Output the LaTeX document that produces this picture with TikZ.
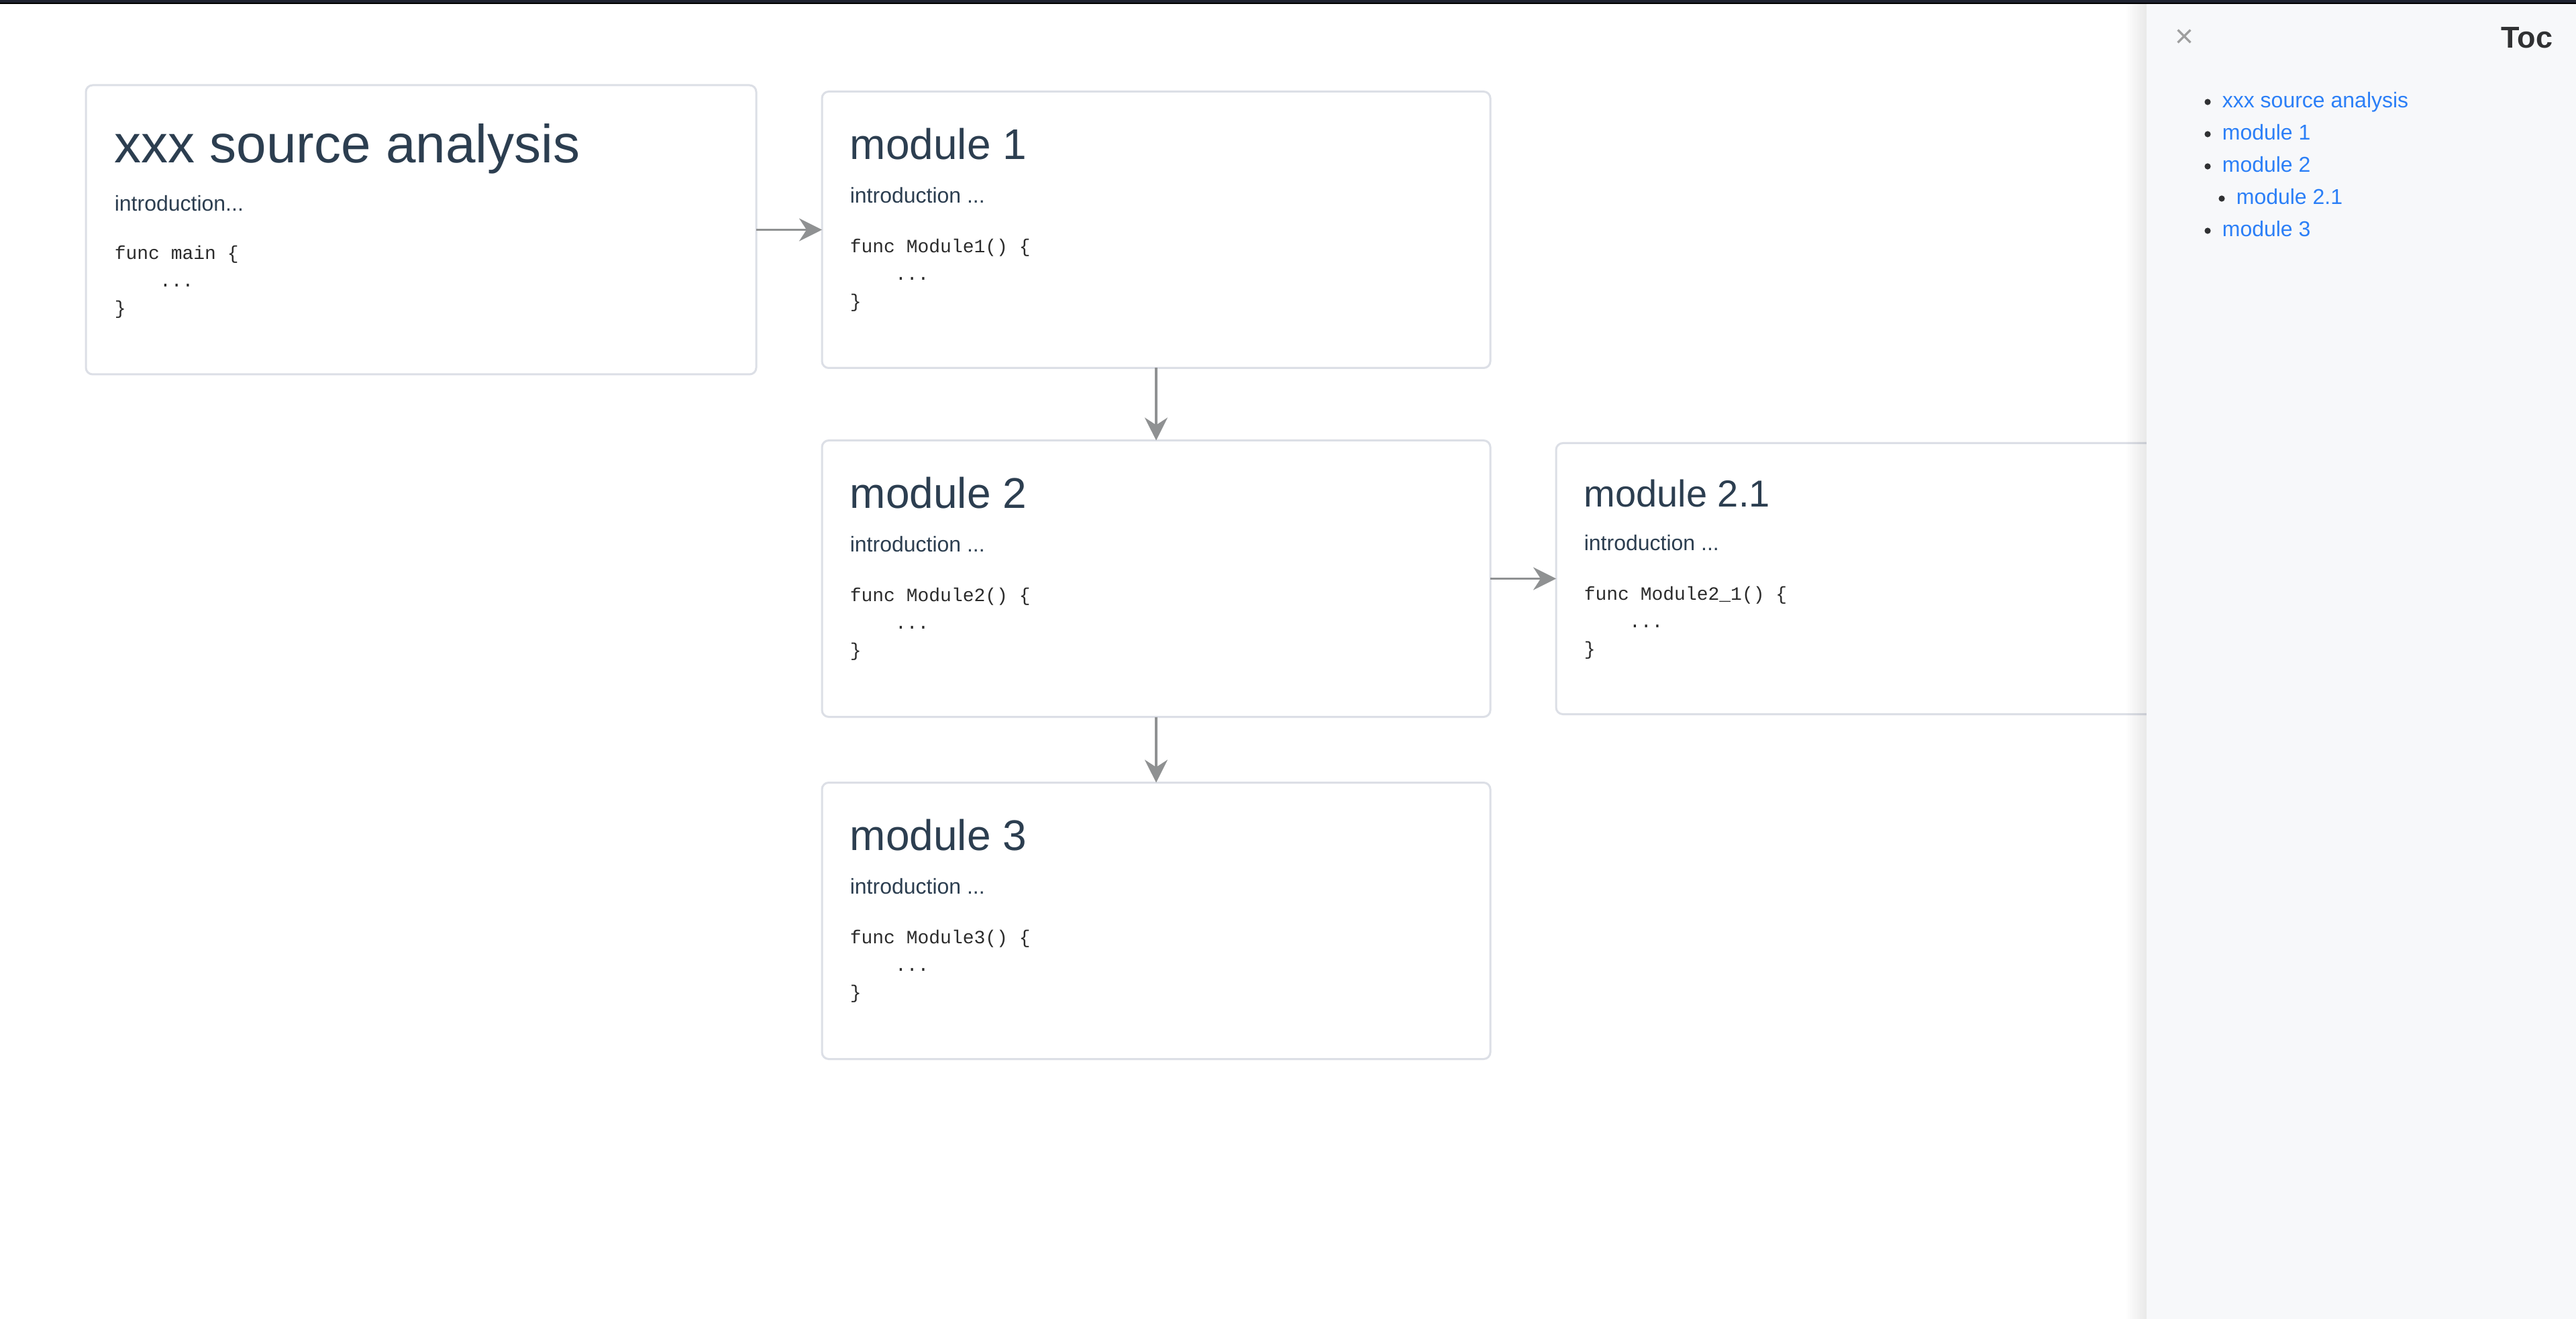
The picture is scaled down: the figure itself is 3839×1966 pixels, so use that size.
\documentclass[tikz,border=0pt]{standalone}
\usepackage{fontspec}
\setmainfont{Liberation Sans}
\setmonofont{Liberation Mono}
\usepackage{tikz}
\usetikzlibrary{positioning,arrows.meta,fadings}
\usepackage{xcolor}
\definecolor{slate}{HTML}{2C3E50}
\definecolor{codeink}{HTML}{2B2B2B}
\definecolor{cardline}{HTML}{DCDFE6}
\definecolor{arrowgray}{HTML}{8F9192}
\definecolor{tocbg}{HTML}{F7F8FA}
\definecolor{tocblue}{HTML}{2B7FF7}
\definecolor{tocink}{HTML}{303133}
\definecolor{topbar}{HTML}{1F2330}
\newcommand{\cstrut}{\rule{0pt}{7pt}}

\begin{document}
\begin{tikzpicture}[x=0.25pt, y=-0.25pt,
    card/.style={draw=cardline, line width=0.75pt, rounded corners=2.5pt, fill=white, minimum width=249pt, minimum height=103pt, outer sep=0pt, inner sep=0pt},
    ttl/.style={font=\fontsize{16}{19}\selectfont, text=slate, inner sep=0pt, anchor=base west},
    intro/.style={font=\fontsize{8}{10}\selectfont, text=slate, inner sep=0pt, anchor=base west},
    code/.style={font=\ttfamily\fontsize{7}{10.25}\selectfont, text=codeink, inner sep=0pt, align=left, anchor=north west},
    link/.style={draw=arrowgray, line width=0.9pt, -{Stealth[length=8.5pt, width=8.5pt, inset=2.75pt]}},
    tocitem/.style={font=\fontsize{8}{10}\selectfont, text=tocblue, inner sep=0pt, anchor=base west}]
  \useasboundingbox (0,0) rectangle (3839,1966);
  \fill[white] (0,0) rectangle (3839,1966);

  % cards
  \node[card, minimum width=249.75pt, minimum height=107.75pt, anchor=north west] (src) at (128,127) {};
  \node[card, right=24.5pt of src] (m1) {};
  \node[card, below=27pt of m1] (m2) {};
  \node[card, below=24.5pt of m2] (m3) {};
  \node[card, right=24.5pt of m2, minimum height=101pt] (m21) {};

  % card texts
  \node[ttl, font=\fontsize{20}{24}\selectfont] (srcttl) at ([shift={(42,116)}]src.north west) {xxx source analysis};
  \node[intro] (srcintro) at ([shift={(42,188)}]src.north west) {introduction...};
  \node[code] (srccode) at ([shift={(42,231)}]src.north west) {\cstrut func main \{\\\hspace*{2.4em}...\\\}};

  \node[ttl] (m1ttl) at ([shift={(41,101)}]m1.north west) {module 1};
  \node[intro] (m1intro) at ([shift={(41,166)}]m1.north west) {introduction ...};
  \node[code] (m1code) at ([shift={(41,211)}]m1.north west) {\cstrut func Module1() \{\\\hspace*{2.4em}...\\\}};

  \node[ttl] (m2ttl) at ([shift={(41,101)}]m2.north west) {module 2};
  \node[intro] (m2intro) at ([shift={(41,166)}]m2.north west) {introduction ...};
  \node[code] (m2code) at ([shift={(41,211)}]m2.north west) {\cstrut func Module2() \{\\\hspace*{2.4em}...\\\}};

  \node[ttl] (m3ttl) at ([shift={(41,101)}]m3.north west) {module 3};
  \node[intro] (m3intro) at ([shift={(41,166)}]m3.north west) {introduction ...};
  \node[code] (m3code) at ([shift={(41,211)}]m3.north west) {\cstrut func Module3() \{\\\hspace*{2.4em}...\\\}};

  \node[ttl, font=\fontsize{14}{17}\selectfont] (m21ttl) at ([shift={(41,95)}]m21.north west) {module 2.1};
  \node[intro] (m21intro) at ([shift={(41,160)}]m21.north west) {introduction ...};
  \node[code] (m21code) at ([shift={(41,205)}]m21.north west) {\cstrut func Module2\_1() \{\\\hspace*{2.4em}...\\\}};

  % arrows
  \draw[link] (src) -- (m1);
  \draw[link] (m1) -- (m2);
  \draw[link] (m2) -- (m21);
  \draw[link] (m2) -- (m3);

  % toc panel
  \node[fill=tocbg, inner sep=0pt, outer sep=0pt, minimum width=160pt, minimum height=490pt, anchor=north west] (toc) at (3199,6) {};
  \fill[black, opacity=0.09, path fading=west] ([xshift=-8pt]toc.north west) rectangle (toc.south west);
  \node[font=\fontsize{12}{14}\selectfont, text=black!38, inner sep=0pt] (tocx) at (3255,57) {×};
  \node[font=\bfseries\fontsize{11.25}{13}\selectfont, text=tocink, inner sep=0pt, anchor=base east] (tochead) at (3805,72) {Toc};
  \node[tocitem] (t1) at (3311,161) {xxx source analysis};
  \node[tocitem] (t2) at ([shift={(0,48)}]t1.base west) {module 1};
  \node[tocitem] (t3) at ([shift={(0,48)}]t2.base west) {module 2};
  \node[tocitem] (t4) at ([shift={(21,48)}]t3.base west) {module 2.1};
  \node[tocitem] (t5) at ([shift={(0,96)}]t3.base west) {module 3};
  \fill[tocink] ([shift={(-21,-9)}]t1.base west) circle (1.15pt);
  \fill[tocink] ([shift={(-21,-9)}]t2.base west) circle (1.15pt);
  \fill[tocink] ([shift={(-21,-9)}]t3.base west) circle (1.15pt);
  \fill[tocink] ([shift={(-21,-9)}]t4.base west) circle (1.15pt);
  \fill[tocink] ([shift={(-21,-9)}]t5.base west) circle (1.15pt);

  % top bar
  \fill[topbar] (0,0) rectangle (3839,4);
  \fill[black] (0,4) rectangle (3839,6);
\end{tikzpicture}
\end{document}
